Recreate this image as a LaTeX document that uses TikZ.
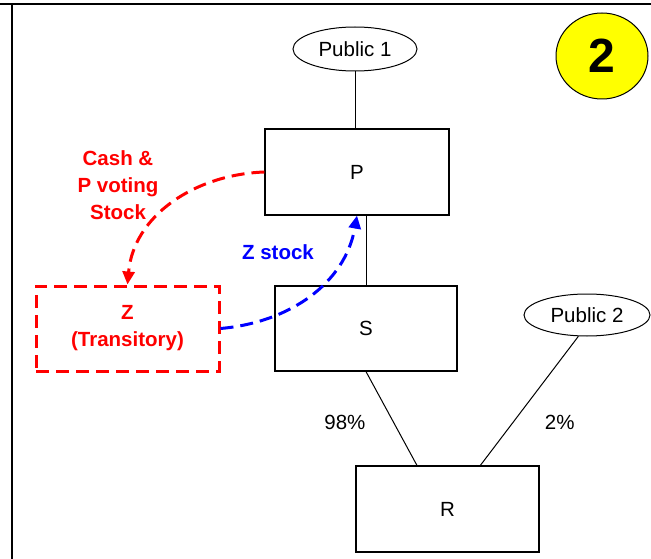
\documentclass[tikz,border=0pt]{standalone}
\usepackage{fontspec}
\setmainfont{Liberation Sans}
\usetikzlibrary{shapes}
\usetikzlibrary{arrows.meta}
\tikzset{>={Triangle[width=12pt,length=13pt]}}
\definecolor{flowred}{HTML}{FF0000}
\definecolor{flowblue}{HTML}{0000FF}
\definecolor{badgeyellow}{HTML}{FFFF00}
\newcommand{\REDTXT}[1]{\textcolor{flowred}{#1}}
\newcommand{\BLUETXT}[1]{\textcolor{flowblue}{#1}}
\tikzset{
  entity/.style={draw, line width=1.2pt, minimum width=183pt, minimum height=86pt, inner sep=0pt},
  holder/.style={draw, ellipse, line width=1pt, inner sep=0pt},
  transit/.style={draw=flowred, line width=3pt, dash pattern=on 13pt off 7pt,
    minimum width=183pt, minimum height=85pt, align=center, text=flowred, font=\bfseries},
  flow/.style={->, line width=3pt, dash pattern=on 13pt off 7pt},
  badge/.style={draw, ellipse, line width=1pt, fill=badgeyellow, minimum width=92pt,
    minimum height=86pt, font=\fontsize{48pt}{48pt}\selectfont\bfseries},
}

\begin{document}
\begin{tikzpicture}[x=1pt, y=-1pt]

  \fontsize{20.5pt}{27pt}\selectfont
  \useasboundingbox (0,0) rectangle (651,559);

  % frame
  \draw[line width=2.5pt] (0,4) -- (651,4);
  \draw[line width=2.5pt] (12,4) -- (12,559);

  \node[badge] (two) at (602,56) {2};

  \node[holder, minimum width=124pt, minimum height=44pt] (pubA) at (355,49) {Public 1};
  \node[holder, minimum width=126pt, minimum height=42pt] (pubB) at (587,315) {Public 2};

  \node[entity, minimum width=184pt] (P) at (357,172) {P};
  \node[entity, minimum width=182pt, minimum height=85pt] (S) at (366,328.5) {S};
  \node[entity] (R) at (447.5,509) {R};
  \node[transit] (Z) at (127.5,328.5) {Z\\(Transitory)};

  \draw[line width=1pt] (pubA.south) -- (pubA.south |- P.north);
  \draw[line width=1pt] (S.north) -- (S.north |- P.south);
  \draw[line width=1pt] (S.south) --
  node[pos=0.547, xshift=-49pt]{98\%} (R.125);
  \draw[line width=1pt] (pubB.248) --
  node[pos=0.67, xshift=47pt]{2\%} (R.53);

  \draw[flow, color=flowred] (P.west) to[out=182, in=85] (Z.north);
  \node[align=center, font=\bfseries] (cash) at (118,185)
  {\REDTXT{Cash \&}\\\REDTXT{P voting}\\\REDTXT{Stock}};

  \draw[flow, color=flowblue] (Z.east) to[out=5, in=-100] (P.south);
  \node[font=\bfseries] (zst) at (278,252) {\BLUETXT{Z stock}};
\end{tikzpicture}
\end{document}
